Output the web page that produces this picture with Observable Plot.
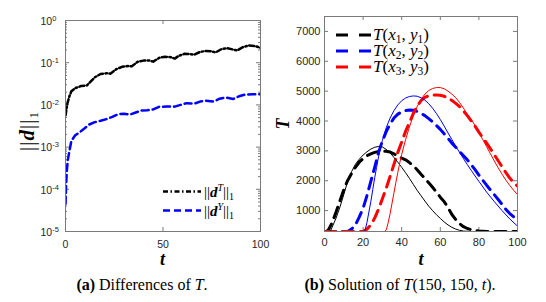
<!DOCTYPE html>
<html><head><meta charset="utf-8">
<script src="https://cdn.jsdelivr.net/npm/d3@7"></script>
<script src="https://cdn.jsdelivr.net/npm/@observablehq/plot@0.6"></script>
<style>
body{margin:0;background:#fff;}
#wrap{position:relative;width:546px;height:302px;overflow:hidden;}
.chart{position:absolute;top:0;}
.cap{position:absolute;top:276px;font-family:"Liberation Serif","Times New Roman",serif;font-size:16px;color:#000;text-align:center;white-space:nowrap;}
#overlay{position:absolute;left:0;top:0;}
</style>
</head><body>
<div id="wrap">
  <div id="pa" class="chart" style="left:0"></div>
  <div id="pb" class="chart" style="left:273px"></div>
  <div class="cap" style="left:22px;width:240px"><b>(a)</b> Differences of <i>T</i>.</div>
  <div class="cap" style="left:280px;width:240px"><b>(b)</b> Solution of <i>T</i>(150, 150, <i>t</i>).</div>
  <svg id="overlay" width="546" height="302" font-family="Liberation Serif, Times New Roman, serif">
    <!-- left axis labels -->
    <text transform="translate(34,131) rotate(-90)" text-anchor="middle" font-size="21" letter-spacing="1">||<tspan font-weight="bold" font-style="italic">d</tspan>||<tspan font-size="13" dy="4">1</tspan></text>
    <text x="162.5" y="265" text-anchor="middle" font-size="18" font-style="italic" font-weight="bold">t</text>
    <!-- left legend -->
    <line x1="163" x2="201" y1="191.5" y2="191.5" stroke="#000" stroke-width="2.5" stroke-dasharray="5,2.5,1.5,2.5"/>
    <line x1="163" x2="201" y1="210.5" y2="210.5" stroke="#0000ff" stroke-width="2.5" stroke-dasharray="7,4"/>
    <text x="204" y="196.5" font-size="15">||<tspan font-weight="bold" font-style="italic">d</tspan><tspan font-style="italic" font-size="10" dy="-6">T</tspan><tspan dy="6">||</tspan><tspan font-size="10" dy="3">1</tspan></text>
    <text x="204" y="215.5" font-size="15">||<tspan font-weight="bold" font-style="italic">d</tspan><tspan font-style="italic" font-size="10" dy="-6">Y</tspan><tspan dy="6">||</tspan><tspan font-size="10" dy="3">1</tspan></text>
    <!-- right axis labels -->
    <text transform="translate(289,124) rotate(-90)" text-anchor="middle" font-size="18" font-style="italic" font-weight="bold">T</text>
    <text x="421" y="265" text-anchor="middle" font-size="18" font-style="italic" font-weight="bold">t</text>
    <!-- right legend -->
    <line x1="336" x2="371" y1="35" y2="35" stroke="#000" stroke-width="3" stroke-dasharray="12,11"/>
    <line x1="336" x2="371" y1="51" y2="51" stroke="#0000ff" stroke-width="3" stroke-dasharray="12,11"/>
    <line x1="336" x2="371" y1="67" y2="67" stroke="#ff0000" stroke-width="3" stroke-dasharray="12,11"/>
    <text x="373" y="40" font-size="17"><tspan font-style="italic">T</tspan>(<tspan font-style="italic">x</tspan><tspan font-size="11.5" dy="3">1</tspan><tspan dy="-3">, </tspan><tspan font-style="italic">y</tspan><tspan font-size="11.5" dy="3">1</tspan><tspan dy="-3">)</tspan></text>
    <text x="373" y="56" font-size="17"><tspan font-style="italic">T</tspan>(<tspan font-style="italic">x</tspan><tspan font-size="11.5" dy="3">2</tspan><tspan dy="-3">, </tspan><tspan font-style="italic">y</tspan><tspan font-size="11.5" dy="3">2</tspan><tspan dy="-3">)</tspan></text>
    <text x="373" y="72" font-size="17"><tspan font-style="italic">T</tspan>(<tspan font-style="italic">x</tspan><tspan font-size="11.5" dy="3">3</tspan><tspan dy="-3">, </tspan><tspan font-style="italic">y</tspan><tspan font-size="11.5" dy="3">3</tspan><tspan dy="-3">)</tspan></text>
  </svg>
</div>
<script>
// ---------- (a) differences ----------
const tDT = [0,1,2,3,5,8,11,13,15,18,21,23,26,29,32,34,37,40,43,45,48,51,54,56,58,61,64,66,69,72,75,77,80,83,86,88,91,94,97,100];
const dT  = [0.0056,0.011,0.016,0.021,0.025,0.028,0.029,0.036,0.045,0.054,0.056,0.055,0.07,0.08,0.083,0.082,0.105,0.112,0.112,0.106,0.13,0.138,0.135,0.125,0.145,0.163,0.16,0.155,0.18,0.19,0.185,0.175,0.21,0.22,0.205,0.195,0.235,0.255,0.25,0.225];
const tDY = [0,0.3,0.7,1.2,2,3,5,7,9,12,15,18,21,24,27,30,33,36,39,42,45,48,52,56,59,62,66,69,72,76,79,82,86,89,92,96,100];
const dY  = [4.5e-5,1.2e-4,2.8e-4,5e-4,8e-4,1.4e-3,1.9e-3,2.2e-3,2.6e-3,3.4e-3,3.9e-3,4.2e-3,4.6e-3,5.2e-3,6.0e-3,6.2e-3,5.9e-3,6.6e-3,7.4e-3,7.5e-3,7.8e-3,9.0e-3,9.2e-3,9.1e-3,1.0e-2,1.1e-2,1.07e-2,1.2e-2,1.26e-2,1.2e-2,1.4e-2,1.5e-2,1.38e-2,1.6e-2,1.75e-2,1.78e-2,1.8e-2];
const xTicksA = [0,50,100];
const yTicksA = [1e-5,1e-4,1e-3,1e-2,1e-1,1];
const yMinorA = yTicksA.slice(0,-1).flatMap(p => [2,3,4,5,6,7,8,9].map(m => m*p));

// ---------- (b) solution ----------
const tS1 = [0,3,4,6,8,10,12,14,16,18,20,22,24,26,28,30,32,34,36,38,40,42,44,46,48,50,52,54,56,58,60,62,64,66,68,70,72,75,78,100];
const S1  = [300,300,450,750,1120,1540,1980,2300,2550,2720,2860,2970,3060,3120,3150,3130,3050,2930,2780,2620,2450,2270,2080,1880,1680,1500,1320,1150,1000,860,740,620,520,440,380,340,315,302,300,300];
const tD1 = [0,1,2,4,6,8,10,12,14,16,18,20,22,24,26,28,30,32,34,36,38,40,42,44,46,48,50,52,54,56,58,60,62,64,66,68,70,72,74,76,78,80,84,100];
const D1  = [300,300,350,600,950,1330,1700,2010,2240,2450,2620,2740,2840,2900,2950,2980,2990,2990,2960,2900,2830,2760,2700,2610,2500,2370,2220,2080,1930,1780,1620,1450,1300,1100,870,700,560,460,400,360,330,315,300,300];
const tS2 = [0,20,21,22,23,24,25,26,27,28,29,30,32,34,36,38,40,42,44,46,48,50,52,54,56,58,60,62,64,66,68,70,72,74,76,78,80,84,88,92,96,100];
const S2  = [300,300,330,600,950,1300,1700,2100,2450,2800,3100,3350,3780,4100,4350,4540,4680,4770,4820,4840,4830,4780,4700,4580,4430,4250,4050,3830,3600,3380,3150,2950,2740,2540,2350,2160,1980,1620,1300,1000,720,480];
const tD2 = [0,12,14,16,18,20,22,24,26,28,30,32,34,36,38,40,42,44,46,48,50,52,54,56,58,60,62,64,66,68,70,72,74,76,78,80,82,84,86,88,90,92,94,96,98,100];
const D2  = [300,300,380,520,780,1080,1500,1980,2450,2950,3330,3650,3900,4100,4230,4310,4350,4370,4360,4320,4260,4180,4080,3970,3850,3720,3570,3420,3260,3120,2980,2840,2700,2540,2370,2190,2020,1850,1690,1530,1370,1210,1040,900,790,700];
const tS3 = [0,31,32,33,34,35,36,37,38,39,40,41,42,44,46,48,50,52,54,56,58,60,62,64,66,68,70,72,74,76,78,80,82,84,86,88,90,92,94,96,98,100];
const S3  = [300,300,350,600,900,1250,1600,1950,2280,2600,2880,3130,3370,3800,4180,4480,4720,4900,5020,5090,5120,5120,5080,5000,4900,4780,4620,4430,4220,4060,3850,3620,3380,3140,2900,2660,2430,2220,2020,1840,1680,1540];
const tD3 = [0,20,22,24,26,28,30,32,34,36,38,40,42,44,46,48,50,52,54,56,58,60,62,64,66,68,70,72,74,76,78,80,82,84,86,88,90,92,94,96,98,100];
const D3  = [300,300,380,520,750,1050,1400,1750,2150,2550,2950,3300,3650,3950,4250,4500,4680,4790,4850,4870,4870,4860,4830,4770,4690,4590,4480,4340,4180,4000,3830,3630,3440,3260,3070,2870,2670,2470,2270,2090,1940,1820];
const xTicksB = [0,20,40,60,80,100];
const yTicksB = [1000,2000,3000,4000,5000,6000,7000];

const zip = (xs, ys) => xs.map((x,i) => ({x, y: ys[i]}));
const frameCol = "#7a7a7a";
const labCol = "#262626";
const font = "Liberation Sans, Arial, Helvetica, sans-serif";

// ----- plot (a)
const WA = 273, HA = 275, mlA = 65, mrA = 13, mtA = 20, mbA = 44;
const fwA = WA - mlA - mrA, fhA = HA - mtA - mbA;
const plotA = Plot.plot({
  width: WA, height: HA,
  marginLeft: mlA, marginRight: mrA, marginTop: mtA, marginBottom: mbA,
  style: {fontFamily: font, fontSize: "10.5px", color: labCol, background: "transparent", overflow: "visible"},
  x: {domain: [0,100]},
  y: {type: "log", domain: [1e-5, 1]},
  marks: [
    Plot.axisX({ticks: xTicksA, tickSize: 0, tickPadding: 9, label: null, fill: labCol}),
    Plot.text(yTicksA, {y: d => d, frameAnchor: "left", dx: -25, textAnchor: "start", dy: 1,
      text: d => "10^" + Math.round(Math.log10(d)), fill: labCol, fontSize: 10.5}),
    Plot.axisY({ticks: [], label: null}),
    Plot.tickY(yTicksA, {y: d => d, insetRight: fwA - 4, stroke: frameCol}),
    Plot.tickY(yTicksA, {y: d => d, insetLeft: fwA - 4, stroke: frameCol}),
    Plot.tickY(yMinorA, {y: d => d, insetRight: fwA - 2, stroke: frameCol}),
    Plot.tickY(yMinorA, {y: d => d, insetLeft: fwA - 2, stroke: frameCol}),
    Plot.tickX(xTicksA, {x: d => d, insetTop: fhA - 4, stroke: frameCol}),
    Plot.tickX(xTicksA, {x: d => d, insetBottom: fhA - 4, stroke: frameCol}),
    Plot.line(zip(tDT, dT), {x: "x", y: "y", stroke: "#000", strokeWidth: 2.5, strokeDasharray: "5,2.5,1.5,2.5", clip: true}),
    Plot.line(zip(tDY, dY), {x: "x", y: "y", stroke: "#0000ff", strokeWidth: 2.5, strokeDasharray: "7,4", clip: true}),
    Plot.frame({stroke: frameCol})
  ]
});
plotA.querySelectorAll("text").forEach(t => {
  const s = t.textContent;
  if (s.includes("^")) {
    const [b, e] = s.split("^");
    t.textContent = b;
    const ts = document.createElementNS("http://www.w3.org/2000/svg", "tspan");
    ts.setAttribute("dy", "-0.55em");
    ts.setAttribute("font-size", "7.5");
    ts.textContent = e;
    t.appendChild(ts);
  }
});
document.getElementById("pa").appendChild(plotA);

// ----- plot (b)
const WB = 273, HB = 275, mlB = 51, mrB = 29, mtB = 16, mbB = 44;
const fwB = WB - mlB - mrB, fhB = HB - mtB - mbB;
const dashB = "11,7";
const plotB = Plot.plot({
  width: WB, height: HB,
  marginLeft: mlB, marginRight: mrB, marginTop: mtB, marginBottom: mbB,
  style: {fontFamily: font, fontSize: "11px", color: labCol, background: "transparent", overflow: "visible"},
  x: {domain: [0,100]},
  y: {domain: [300, 7500]},
  marks: [
    Plot.axisX({ticks: xTicksB, tickSize: 0, tickPadding: 7, label: null, fill: labCol}),
    Plot.axisY({ticks: yTicksB, tickSize: 0, tickPadding: 4, label: null, fill: labCol, tickFormat: d => String(d)}),
    Plot.tickY(yTicksB, {y: d => d, insetRight: fwB - 4, stroke: frameCol}),
    Plot.tickY(yTicksB, {y: d => d, insetLeft: fwB - 4, stroke: frameCol}),
    Plot.tickX(xTicksB, {x: d => d, insetTop: fhB - 4, stroke: frameCol}),
    Plot.tickX(xTicksB, {x: d => d, insetBottom: fhB - 4, stroke: frameCol}),
    Plot.line(zip(tD1, D1), {x: "x", y: "y", stroke: "#000", strokeWidth: 3, strokeDasharray: dashB, clip: true}),
    Plot.line(zip(tD2, D2), {x: "x", y: "y", stroke: "#0000ff", strokeWidth: 3, strokeDasharray: dashB, clip: true}),
    Plot.line(zip(tD3, D3), {x: "x", y: "y", stroke: "#ff0000", strokeWidth: 3, strokeDasharray: dashB, clip: true}),
    Plot.line(zip(tS1, S1), {x: "x", y: "y", stroke: "#000", strokeWidth: 1, clip: true}),
    Plot.line(zip(tS2, S2), {x: "x", y: "y", stroke: "#0000ff", strokeWidth: 1, clip: true}),
    Plot.line(zip(tS3, S3), {x: "x", y: "y", stroke: "#ff0000", strokeWidth: 1, clip: true}),
    Plot.frame({stroke: frameCol})
  ]
});
document.getElementById("pb").appendChild(plotB);
</script>
</body></html>
